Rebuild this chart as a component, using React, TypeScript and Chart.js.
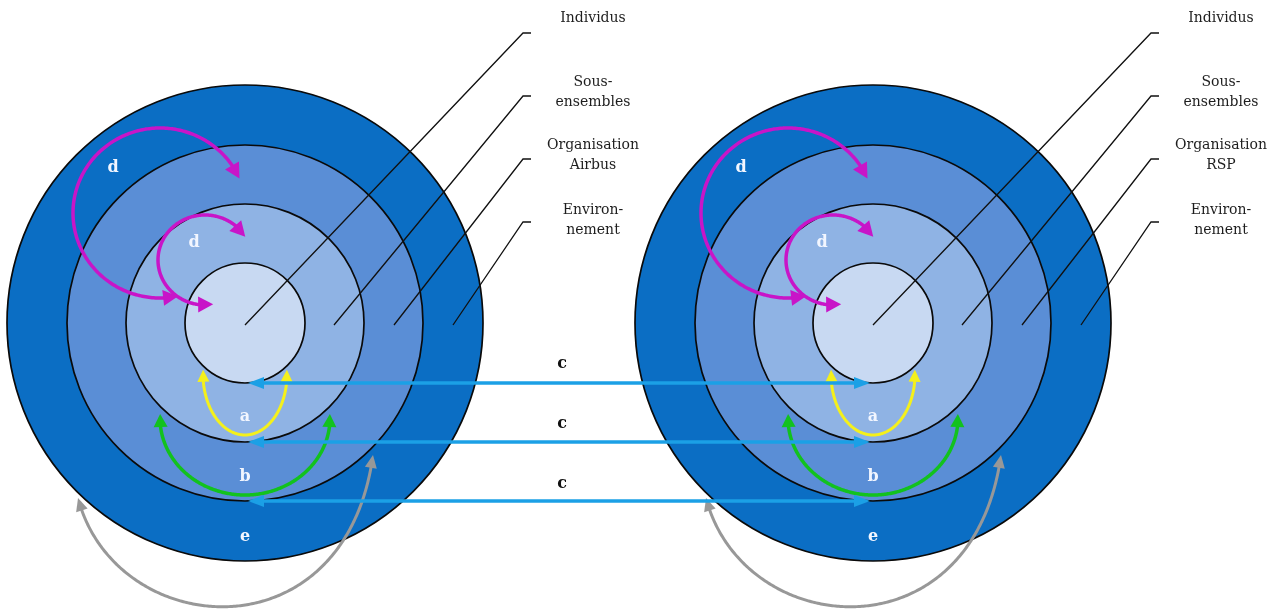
import React, { useEffect, useRef } from "react";
import { Chart, registerables } from "chart.js";

Chart.register(...registerables);

// ---------- Diagram data (values in the chart's own x / y scale units) ----------
const organisations = ["Airbus", "RSP"];
const centerXs = [245, 873];
const centerY = 323;
// rings from outside to inside: Environnement, Organisation, Sous-ensembles, Individus
const ringRadii = [238, 178, 119, 60];

// leader lines (one per level, inner level first)
const leaderStartDx = [0, 89, 149, 208];
const leaderTopDx = 278;
const leaderTopY = [33, 96, 159, 222];
const leaderTickLen = 8;

// labels for the leader lines
const labelTexts = [["Individus"], ["Sous-", "ensembles"], ["Organisation", ""], ["Environ-", "nement"]];
const labelDx = 348;
const labelFirstY = [18, 82, 145, 210];
const labelGap = 20;

// "c" arrows between the two diagrams (at the bottom of each inner ring)
const cRadii = [60, 119, 178];
const cLabelX = 562;
const cLabelY = [364, 424, 484];
const cTipInset = 3;

// elliptic arrows a, b, d, d (relative to each diagram centre)
const arcDx = [0, 0, -85, -40];
const arcDy = [51, 95, -110, -63];
const arcRx = [42, 85, 87, 47];
const arcRy = [61, 77, 85, 45];
const arcStartDeg = [-4, -3, -24, -31];
const arcSweepDeg = [188, 186, -258, -249];

// grey "e" arrow (cubic curve control points, relative to centre)
const eCtrlDx = [-167, -130, 100, 128];
const eCtrlDy = [175, 317, 337, 132];

// letters inside the diagrams
const letterTexts = ["a", "b", "e", "d", "d"];
const letterDx = [0, 0, 0, -132, -51];
const letterDy = [94, 154, 214, -155, -80];

// ---------- Styles ----------
const ringColors = ["#0B6EC4", "#5A8ED6", "#8FB3E4", "#C8D9F2"];
const arcColors = ["#F4F01C", "#12C21E", "#C815C8", "#C815C8"];
const arcWidths = [3, 3.5, 3.5, 3.5];
const arcHeads = [[12, 6], [13, 7], [15, 8], [15, 8]];
const blueColor = "#1BA0E6";
const greyColor = "#989898";

type P = [number, number];

function drawHead(ctx: CanvasRenderingContext2D, tip: P, from: P, len: number, half: number, color: string) {
  let ux = tip[0] - from[0];
  let uy = tip[1] - from[1];
  const n = Math.hypot(ux, uy) || 1;
  ux /= n;
  uy /= n;
  const bx = tip[0] - ux * len;
  const by = tip[1] - uy * len;
  ctx.beginPath();
  ctx.moveTo(tip[0], tip[1]);
  ctx.lineTo(bx - uy * half, by + ux * half);
  ctx.lineTo(bx + uy * half, by - ux * half);
  ctx.closePath();
  ctx.fillStyle = color;
  ctx.fill();
}

function pointBack(pts: P[], fromStart: boolean, dist: number): P {
  const tip = fromStart ? pts[0] : pts[pts.length - 1];
  const n = pts.length;
  for (let k = 1; k < n; k++) {
    const p = fromStart ? pts[k] : pts[n - 1 - k];
    if (Math.hypot(p[0] - tip[0], p[1] - tip[1]) >= dist) return p;
  }
  return fromStart ? pts[n - 1] : pts[0];
}

function drawCurveArrow(ctx: CanvasRenderingContext2D, pts: P[], color: string, width: number, len: number, half: number) {
  const t0 = pts[0];
  const t1 = pts[pts.length - 1];
  const trim = len * 0.7;
  const inner = pts.filter(
    (p) => Math.hypot(p[0] - t0[0], p[1] - t0[1]) > trim && Math.hypot(p[0] - t1[0], p[1] - t1[1]) > trim
  );
  ctx.beginPath();
  inner.forEach((p, i) => (i === 0 ? ctx.moveTo(p[0], p[1]) : ctx.lineTo(p[0], p[1])));
  ctx.strokeStyle = color;
  ctx.lineWidth = width;
  ctx.lineCap = "butt";
  ctx.lineJoin = "round";
  ctx.stroke();
  drawHead(ctx, t0, pointBack(pts, true, len), len, half, color);
  drawHead(ctx, t1, pointBack(pts, false, len), len, half, color);
}

const diagramPlugin = {
  id: "diagramPlugin",
  beforeDatasetsDraw(chart: any) {
    const ctx: CanvasRenderingContext2D = chart.ctx;
    const xs = chart.scales.x;
    const ys = chart.scales.y;
    ctx.save();
    centerXs.forEach((cx) => {
      const px = xs.getPixelForValue(cx);
      const py = ys.getPixelForValue(centerY);
      ringRadii.forEach((r, i) => {
        const rx = Math.abs(xs.getPixelForValue(cx + r) - px);
        const ry = Math.abs(ys.getPixelForValue(centerY + r) - py);
        ctx.beginPath();
        ctx.ellipse(px, py, rx, ry, 0, 0, Math.PI * 2);
        ctx.fillStyle = ringColors[i];
        ctx.fill();
        ctx.lineWidth = 1.7;
        ctx.strokeStyle = "#0a0a0a";
        ctx.stroke();
      });
    });
    ctx.restore();
  },
  afterDatasetsDraw(chart: any) {
    const ctx: CanvasRenderingContext2D = chart.ctx;
    const xs = chart.scales.x;
    const ys = chart.scales.y;
    const X = (v: number) => xs.getPixelForValue(v);
    const Y = (v: number) => ys.getPixelForValue(v);
    ctx.save();

    centerXs.forEach((cx, d) => {
      // elliptic arrows
      arcDx.forEach((dx, i) => {
        const ecx = cx + dx;
        const ecy = centerY + arcDy[i];
        const pts: P[] = [];
        const steps = 240;
        for (let s = 0; s <= steps; s++) {
          const t = ((arcStartDeg[i] + (arcSweepDeg[i] * s) / steps) * Math.PI) / 180;
          pts.push([X(ecx + arcRx[i] * Math.cos(t)), Y(ecy + arcRy[i] * Math.sin(t))]);
        }
        drawCurveArrow(ctx, pts, arcColors[i], arcWidths[i], arcHeads[i][0], arcHeads[i][1]);
      });

      // grey arrow e
      const c = eCtrlDx.map((dx, k) => [X(cx + dx), Y(centerY + eCtrlDy[k])] as P);
      const gp: P[] = [];
      for (let s = 0; s <= 240; s++) {
        const t = s / 240;
        const a = (1 - t) * (1 - t) * (1 - t);
        const b = 3 * (1 - t) * (1 - t) * t;
        const e = 3 * (1 - t) * t * t;
        const f = t * t * t;
        gp.push([
          a * c[0][0] + b * c[1][0] + e * c[2][0] + f * c[3][0],
          a * c[0][1] + b * c[1][1] + e * c[2][1] + f * c[3][1],
        ]);
      }
      drawCurveArrow(ctx, gp, greyColor, 3, 13, 6);

      // letters
      ctx.font = 'bold 16px "DejaVu Serif"';
      ctx.textAlign = "center";
      ctx.textBaseline = "middle";
      ctx.fillStyle = "#F2F6FF";
      letterTexts.forEach((t, i) => {
        ctx.fillText(t, X(cx + letterDx[i]), Y(centerY + letterDy[i]));
      });

      // labels
      ctx.font = '14px "DejaVu Serif"';
      ctx.fillStyle = "#1e1e1e";
      labelTexts.forEach((lines, i) => {
        const ls = lines.map((l) => (l === "" ? organisations[d] : l));
        ls.forEach((l, k) => {
          ctx.fillText(l, X(cx + labelDx), Y(labelFirstY[i] + k * labelGap));
        });
      });
    });

    // blue "c" arrows
    cRadii.forEach((r, i) => {
      const yv = Y(centerY + r);
      const p0: P = [X(centerXs[0] + cTipInset), yv];
      const p1: P = [X(centerXs[1] - cTipInset), yv];
      drawCurveArrow(ctx, [p0, [(p0[0] + p1[0]) / 2, yv], p1].flatMap((p, k, arr) => {
        if (k === 0) return [p];
        const prev = arr[k - 1];
        const out: P[] = [];
        for (let s = 1; s <= 100; s++) out.push([prev[0] + ((p[0] - prev[0]) * s) / 100, yv]);
        return out;
      }), blueColor, 3.5, 16, 6);
      ctx.font = 'bold 16px "DejaVu Serif"';
      ctx.fillStyle = "#111";
      ctx.textAlign = "center";
      ctx.textBaseline = "middle";
      ctx.fillText("c", X(cLabelX), Y(cLabelY[i]));
    });

    ctx.restore();
  },
};

export default function App() {
  const ref = useRef<HTMLCanvasElement | null>(null);

  useEffect(() => {
    document.body.style.margin = "0";
    const canvas = ref.current;
    if (!canvas) return;

    const datasets: any[] = [];
    centerXs.forEach((cx) => {
      leaderStartDx.forEach((dx, i) => {
        datasets.push({
          data: [
            { x: cx + dx, y: centerY + 2 },
            { x: cx + leaderTopDx, y: leaderTopY[i] },
            { x: cx + leaderTopDx + leaderTickLen, y: leaderTopY[i] },
          ],
          showLine: true,
          borderColor: "#111111",
          borderWidth: 1.3,
          pointRadius: 0,
          tension: 0,
        });
      });
    });

    const chart = new Chart(canvas, {
      type: "scatter",
      data: { datasets },
      options: {
        animation: false,
        responsive: false,
        maintainAspectRatio: false,
        events: [],
        layout: { padding: 0 },
        plugins: { legend: { display: false }, tooltip: { enabled: false } },
        scales: {
          x: { type: "linear", min: 0, max: 1276, display: false },
          y: { type: "linear", min: 0, max: 613, reverse: true, display: false },
        },
      },
      plugins: [diagramPlugin],
    });
    return () => chart.destroy();
  }, []);

  return (
    <div style={{ position: "fixed", left: 0, top: 0, width: 1276, height: 613, background: "#fff" }}>
      <canvas ref={ref} width={1276} height={613} style={{ display: "block" }} />
    </div>
  );
}
